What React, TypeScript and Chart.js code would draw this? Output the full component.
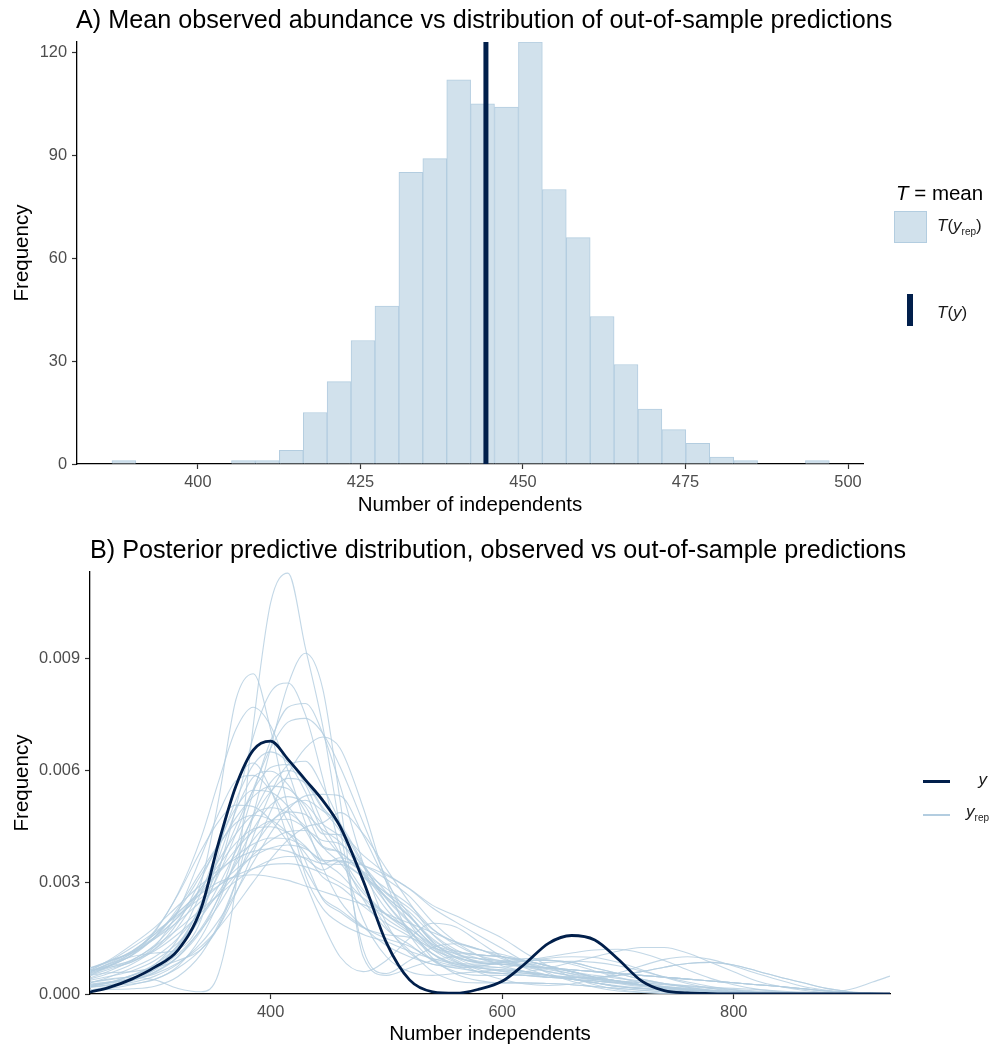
import React, { useEffect, useRef } from "react";
import { Chart, registerables } from "chart.js";

Chart.register(...registerables);

const FONT_FAMILY = "'Liberation Sans', Arial, Helvetica, sans-serif";
const DARK = "#011f4b";
const LIGHT = "#d1e1ec";
const LIGHT_HL = "#b3cde0";
const YREP_LINE = "rgba(179,205,224,0.8)";
const TICK_LABEL = "#4d4d4d";

// ---------- Panel A: histogram of T(y_rep) = mean ----------
const HIST_BIN_CENTERS = [
  388.61, 392.29, 395.97, 399.64, 403.32, 407.0, 410.68, 414.36, 418.04, 421.71,
  425.39, 429.07, 432.75, 436.43, 440.11, 443.78, 447.46, 451.14, 454.82, 458.5,
  462.18, 465.85, 469.53, 473.21, 476.89, 480.57, 484.25, 487.92, 491.6, 495.28,
];
const HIST_COUNTS = [
  1, 0, 0, 0, 0, 1, 1, 4, 15, 24, 36, 46, 85, 89, 112, 105, 104, 123, 80, 66, 43, 29, 16, 10, 6, 2, 1, 0, 0, 1,
];
const T_Y_OBSERVED = 444.3;
const A_X_MIN = 381.4;
const A_X_MAX = 502.3;
const A_Y_MAX = 123;
const A_X_TICKS = [400, 425, 450, 475, 500];
const A_Y_TICKS = [0, 30, 60, 90, 120];

// ---------- Panel B: density overlay ----------
const DENS_UNIT = 0.001; // values below are in units of 0.001
const DENS_X = [
  244, 260, 280, 300, 320, 340, 355, 370, 385, 400, 415, 430, 445, 460, 480, 500,
  520, 540, 560, 580, 600, 620, 640, 660, 680, 700, 720, 740, 760, 780, 800, 820, 840, 860, 880, 900, 920, 935,
];
const Y_OBS = [0.05,0.17,0.4,0.72,1.18,2.3,4.05,5.58,6.55,6.79,6.3,5.75,5.2,4.5,3.04,1.38, 0.38,0.06,0.02,0.13,0.34,0.82,1.36,1.57,1.45,0.94,0.36,0.09,0.03,0.01,0,0,0,0,0,0,0,0];

const YREP_01 = [0.3,0.4,0.45,0.38,0.15,0.06,0.55,2.9,7.2,10.5,11.3,9.3,7.2,4.45,1.2,0.55, 0.9,1.25,1.35,1.2,0.95,0.75,0.6,0.5,0.4,0.3,0.22,0.15,0.1,0.06,0.03,0.02,0.01,0,0,0,0,0];
const YREP_02 = [0.2,0.3,0.5,0.7,0.9,1.2,1.8,3.0,4.8,6.6,8.3,9.15,8.2,5.2,1.0,0.5, 0.7,0.9,1.0,0.95,0.85,0.75,0.65,0.55,0.45,0.35,0.25,0.18,0.12,0.08,0.05,0.03,0.02,0.01,0,0,0,0];
const YREP_03 = [0.4,0.55,0.8,1.2,1.8,3.0,5.2,7.9,8.6,7.1,5.0,3.2,2.3,1.9,1.6,1.4, 1.15,0.95,0.8,0.7,0.62,0.56,0.5,0.45,0.4,0.35,0.3,0.25,0.2,0.15,0.1,0.06,0.04,0.02,0.01,0,0,0];
const YREP_04 = [0.5,0.75,1.1,1.7,2.7,4.2,5.7,7.1,7.7,7.2,6.0,4.6,3.4,2.5,1.8,1.3, 1.0,0.8,0.7,0.6,0.55,0.5,0.45,0.4,0.35,0.3,0.25,0.2,0.15,0.1,0.07,0.04,0.02,0.01,0,0,0,0];
const YREP_05 = [0.2,0.3,0.5,0.8,1.3,2.2,3.3,5.0,6.9,8.1,8.35,7.5,5.8,3.9,2.0,1.0, 0.6,0.5,0.55,0.6,0.65,0.6,0.5,0.4,0.3,0.2,0.14,0.1,0.07,0.04,0.02,0.01,0,0,0,0,0,0];
const YREP_06 = [0.1,0.2,0.35,0.6,1.0,1.7,2.6,3.9,5.4,6.8,7.7,7.8,7.0,5.6,3.5,1.9, 1.1,0.8,0.75,0.75,0.7,0.6,0.5,0.4,0.3,0.22,0.16,0.12,0.08,0.05,0.03,0.02,0.01,0,0,0,0,0];
const YREP_07 = [0.3,0.45,0.7,1.0,1.5,2.3,3.2,4.3,5.5,6.6,7.3,7.4,7.0,6.1,4.6,3.1, 1.9,1.2,0.85,0.7,0.65,0.6,0.5,0.4,0.3,0.2,0.15,0.1,0.06,0.04,0.02,0.01,0,0,0,0,0,0];
const YREP_08 = [0.1,0.15,0.25,0.4,0.7,1.2,1.8,2.7,3.8,4.9,5.9,6.6,6.9,6.6,5.0,3.0, 1.6,0.9,0.6,0.5,0.5,0.5,0.45,0.4,0.35,0.3,0.25,0.2,0.15,0.1,0.06,0.03,0.02,0.01,0,0,0,0];
const YREP_09 = [0.7,0.85,1.15,1.6,2.2,2.7,3.0,3.15,3.2,3.15,3.05,2.9,2.75,2.6,2.4,2.15, 1.9,1.65,1.4,1.2,1.0,0.85,0.7,0.6,0.5,0.42,0.35,0.28,0.22,0.17,0.12,0.08,0.05,0.03,0.02,0.01,0,0];
const YREP_10 = [0.6,0.8,1.0,1.1,1.2,2.0,3.8,5.6,6.2,5.5,4.2,3.0,1.9,1.0,0.6,0.9, 1.5,1.9,1.8,1.4,1.0,0.7,0.5,0.4,0.3,0.2,0.15,0.1,0.06,0.04,0.02,0.01,0,0,0,0,0,0];
const YREP_11 = [0.32,0.38,0.49,0.79,1.48,2.73,3.95,5.2,6.15,6.5,6.21,5.43,4.34,3.73,2.79,2.14, 1.76,1.33,1.14,1.05,1.0,0.9,0.75,0.6,0.45,0.35,0.25,0.18,0.12,0.08,0.05,0.03,0.02,0.01,0,0,0,0];
const YREP_12 = [0.23,0.29,0.41,0.71,1.33,2.37,3.39,4.5,5.47,6.08,6.16,5.63,4.58,3.75,2.54,1.74, 1.33,0.9,0.7,0.75,0.85,0.9,0.9,0.85,0.7,0.55,0.4,0.28,0.18,0.1,0.06,0.03,0.02,0.01,0,0,0,0];
const YREP_13 = [0.5,0.57,0.6,0.75,1.27,2.43,3.64,4.92,5.82,5.98,5.62,4.89,3.96,3.52,2.71,2.13, 1.75,1.28,1.0,0.85,0.8,0.75,0.7,0.65,0.6,0.55,0.5,0.45,0.4,0.35,0.3,0.25,0.2,0.14,0.08,0.04,0.02,0.01];
const YREP_14 = [0.18,0.25,0.37,0.66,1.19,2.06,2.9,3.83,4.73,5.43,5.79,5.66,4.96,4.38,3.22,2.27, 1.69,1.07,0.75,0.6,0.55,0.6,0.7,0.85,1.0,1.15,1.25,1.25,1.1,0.85,0.6,0.35,0.2,0.1,0.04,0.01,0,0];
const YREP_15 = [0.56,0.74,1.04,1.53,2.24,3.2,3.96,4.73,5.3,5.58,5.51,5.04,4.3,4.28,3.72,3.23, 2.83,2.38,2.1,1.8,1.5,1.1,0.75,0.45,0.25,0.12,0.05,0.02,0.01,0,0,0,0,0,0,0,0,0];
const YREP_16 = [0.63,0.75,0.89,1.22,1.93,3.09,4.06,5.0,5.47,5.42,5.04,4.4,3.6,3.22,2.56,2.02, 1.62,1.19,0.97,0.84,0.8,0.72,0.6,0.48,0.36,0.28,0.2,0.14,0.1,0.06,0.04,0.02,0.01,0,0,0,0,0];
const YREP_17 = [0.27,0.32,0.39,0.58,1.0,1.77,2.58,3.54,4.43,5.07,5.3,5.11,4.56,4.23,3.42,2.58, 1.96,1.3,0.91,0.65,0.55,0.5,0.45,0.45,0.45,0.5,0.6,0.72,0.82,0.85,0.78,0.62,0.45,0.3,0.15,0.06,0.02,0.01];
const YREP_18 = [0.24,0.32,0.43,0.65,1.07,1.73,2.38,3.16,3.93,4.59,5.04,5.2,4.92,4.56,3.51,2.44, 1.7,1.08,0.8,0.75,0.85,0.9,0.9,0.85,0.7,0.55,0.4,0.28,0.18,0.1,0.06,0.03,0.02,0.01,0,0,0,0];
const YREP_19 = [0.54,0.7,0.91,1.32,1.98,2.85,3.58,4.3,4.82,5.0,4.87,4.5,3.94,3.8,3.26,2.69, 2.2,1.6,1.19,0.95,0.8,0.75,0.7,0.65,0.6,0.55,0.5,0.45,0.4,0.35,0.3,0.25,0.2,0.14,0.08,0.04,0.02,0.01];
const YREP_20 = [0.37,0.47,0.62,0.9,1.37,2.07,2.73,3.47,4.14,4.64,4.89,4.82,4.41,4.08,3.26,2.44, 1.73,0.96,0.54,0.36,0.3,0.3,0.28,0.25,0.2,0.15,0.1,0.06,0.03,0.01,0,0,0,0,0,0,0,0];
const YREP_21 = [0.68,0.88,1.13,1.53,2.06,2.72,3.28,3.88,4.37,4.65,4.69,4.45,3.97,3.81,3.21,2.61, 2.08,1.4,1.01,0.83,0.8,0.9,1.0,1.1,1.18,1.2,1.1,0.9,0.65,0.42,0.25,0.13,0.06,0.02,0.01,0,0,0];
const YREP_22 = [0.7,0.88,1.1,1.49,2.08,2.85,3.45,4.05,4.43,4.49,4.32,3.97,3.49,3.48,3.14,2.72, 2.3,1.73,1.38,1.19,1.06,0.9,0.75,0.6,0.45,0.35,0.25,0.18,0.12,0.08,0.05,0.03,0.02,0.01,0,0,0,0];
const YREP_23 = [0.5,0.66,0.86,1.16,1.61,2.18,2.67,3.22,3.74,4.12,4.36,4.39,4.12,4.03,3.44,2.73, 2.09,1.39,0.97,0.73,0.6,0.55,0.5,0.45,0.4,0.35,0.3,0.26,0.22,0.18,0.15,0.12,0.08,0.05,0.04,0.12,0.32,0.48];
const YREP_24 = [0.6,0.82,1.14,1.61,2.17,2.79,3.26,3.7,4.03,4.19,4.16,3.94,3.57,3.59,3.28,2.83, 2.39,1.75,1.32,1.03,0.88,0.75,0.7,0.65,0.6,0.55,0.5,0.45,0.4,0.35,0.3,0.25,0.2,0.14,0.08,0.04,0.02,0.01];
const YREP_25 = [0.6,0.8,1.09,1.48,1.94,2.49,2.9,3.34,3.69,3.92,4.0,3.9,3.6,3.55,3.13,2.6, 2.08,1.48,1.08,0.88,0.85,0.88,0.96,1.0,0.98,0.85,0.66,0.45,0.28,0.15,0.07,0.03,0.01,0,0,0,0,0];
const YREP_26 = [0.63,0.9,1.32,1.79,2.37,2.94,3.33,3.63,3.83,3.9,3.83,3.63,3.33,3.56,3.45,3.19, 2.82,2.31,1.93,1.57,1.22,0.86,0.56,0.34,0.18,0.08,0.04,0.01,0,0,0,0,0,0,0,0,0,0];
const YREP_27 = [0.43,0.61,0.9,1.28,1.74,2.27,2.66,3.03,3.36,3.59,3.69,3.66,3.5,3.66,3.46,3.08, 2.62,1.93,1.4,1.03,0.76,0.6,0.45,0.45,0.45,0.5,0.6,0.72,0.82,0.85,0.78,0.62,0.45,0.3,0.15,0.06,0.02,0.01];
const YREP_28 = [0.62,0.72,0.86,1.28,2.22,3.7,4.84,5.72,5.87,5.45,4.62,3.58,2.54,2.2,1.78,1.59, 1.52,1.24,1.1,1.05,1.0,0.9,0.75,0.6,0.45,0.35,0.25,0.18,0.12,0.08,0.05,0.03,0.02,0.01,0,0,0,0];
const YREP_29 = [0.1,0.12,0.14,0.21,0.47,1.07,1.87,2.99,4.24,5.39,6.15,6.25,5.56,4.6,2.99,1.8, 1.17,0.6,0.35,0.3,0.3,0.3,0.28,0.25,0.2,0.15,0.1,0.06,0.03,0.01,0,0,0,0,0,0,0,0];
const YREP_30 = [0.6,0.76,1.03,1.53,2.31,3.3,4.01,4.59,4.8,4.68,4.32,3.78,3.14,2.88,2.36,1.9, 1.55,1.08,0.83,0.8,0.88,0.95,0.92,0.8,0.62,0.45,0.3,0.2,0.12,0.07,0.04,0.02,0.01,0,0,0,0,0];
const YREP_31 = [0.18,0.23,0.31,0.48,0.81,1.37,1.97,2.73,3.54,4.32,4.95,5.32,5.36,5.32,4.26,3.02, 2.13,1.44,1.16,1.05,1.0,0.9,0.75,0.6,0.45,0.35,0.25,0.18,0.12,0.08,0.05,0.03,0.02,0.01,0,0,0,0];
const YREP_32 = [0.24,0.3,0.38,0.54,0.83,1.28,1.77,2.37,3.01,3.62,4.14,4.48,4.6,4.87,4.3,3.36, 2.45,1.6,1.12,0.85,0.8,0.75,0.7,0.65,0.6,0.55,0.5,0.45,0.4,0.35,0.3,0.25,0.2,0.14,0.08,0.04,0.02,0.01];
const YREP_33 = [0.64,0.87,1.24,1.66,2.12,2.58,2.91,3.18,3.37,3.48,3.5,3.42,3.24,2.99,2.58,2.12, 1.66,1.24,0.87,0.58,0.39,0.27,0.23,0.27,0.4,0.56,0.75,0.93,1.0,0.93,0.75,0.55,0.37,0.2,0.1,0.04,0.01,0];
const YREP_34 = [0.2,0.24,0.27,0.39,0.75,1.53,2.46,3.64,4.8,5.68,6.0,5.74,5.01,4.5,3.46,2.55, 1.92,1.34,1.07,0.95,0.9,0.81,0.68,0.54,0.41,0.32,0.23,0.16,0.11,0.07,0.05,0.03,0.02,0.01,0,0,0,0];
const YREP_35 = [0.57,0.74,1.05,1.67,2.67,3.86,4.63,5.07,5.03,4.67,4.08,3.34,2.58,2.26,1.8,1.49, 1.28,0.92,0.75,0.7,0.72,0.78,0.85,0.88,0.85,0.76,0.62,0.46,0.32,0.2,0.11,0.05,0.02,0.01,0,0,0,0];

const YREP_SERIES = [
  YREP_01, YREP_02, YREP_03, YREP_04, YREP_05, YREP_06, YREP_07, YREP_08, YREP_09, YREP_10,
  YREP_11, YREP_12, YREP_13, YREP_14, YREP_15, YREP_16, YREP_17, YREP_18, YREP_19, YREP_20,
  YREP_21, YREP_22, YREP_23, YREP_24, YREP_25, YREP_26, YREP_27, YREP_28, YREP_29, YREP_30,
  YREP_31, YREP_32, YREP_33, YREP_34, YREP_35,
];

const B_X_MIN = 244;
const B_X_MAX = 935;
const B_Y_MAX = 0.01133;
const B_X_TICKS = [400, 600, 800];
const B_Y_TICKS = [0, 0.003, 0.006, 0.009];

// ---------- shared styling ----------
function axis(opts: {
  title: string;
  ticks: number[];
  min: number;
  max: number;
  size: number;
  horizontal: boolean;
  titlePad: number;
  fmt?: (v: number) => string;
}) {
  return {
    type: "linear" as const,
    min: opts.min,
    max: opts.max,
    offset: false,
    grid: {
      display: true,
      drawOnChartArea: false,
      drawTicks: true,
      tickLength: 5,
      tickColor: "#333333",
      tickWidth: 1.2,
      offset: false,
    },
    border: { display: true, color: "#000000", width: 1.3 },
    ticks: {
      color: TICK_LABEL,
      font: { family: FONT_FAMILY, size: 16.4 },
      padding: opts.horizontal ? 4 : 5,
      autoSkip: false,
      maxRotation: 0,
      callback: (v: any) => (opts.fmt ? opts.fmt(Number(v)) : String(v)),
    },
    title: {
      display: true,
      text: opts.title,
      color: "#000000",
      font: { family: FONT_FAMILY, size: 20.5 },
      padding: opts.horizontal ? { top: 0, bottom: opts.titlePad } : { top: opts.titlePad, bottom: 0 },
    },
    afterBuildTicks: (scale: any) => {
      scale.ticks = opts.ticks.map((v) => ({ value: v }));
    },
    afterFit: (scale: any) => {
      if (opts.horizontal) scale.height = opts.size;
      else scale.width = opts.size;
    },
  };
}

function buildConfigA(): any {
  const bars = HIST_BIN_CENTERS.map((x, i) => ({ x, y: HIST_COUNTS[i] }));
  return {
    type: "bar",
    data: {
      datasets: [
        {
          type: "line",
          label: "T(y)",
          data: [
            { x: T_Y_OBSERVED, y: 0 },
            { x: T_Y_OBSERVED, y: A_Y_MAX },
          ],
          borderColor: DARK,
          borderWidth: 5,
          borderCapStyle: "butt",
          pointRadius: 0,
          fill: false,
        },
        {
          type: "bar",
          label: "T(yrep)",
          data: bars,
          backgroundColor: LIGHT,
          borderColor: LIGHT_HL,
          borderWidth: 1,
          barPercentage: 1,
          categoryPercentage: 1,
        },
      ],
    },
    options: {
      animation: false,
      responsive: false,
      events: [],
      layout: { padding: { top: 42, right: 129, bottom: 0, left: 0 } },
      plugins: { legend: { display: false }, tooltip: { enabled: false }, title: { display: false } },
      scales: {
        x: axis({ title: "Number of independents", ticks: A_X_TICKS, min: A_X_MIN, max: A_X_MAX, size: 61, horizontal: true, titlePad: 7.7 }),
        y: axis({ title: "Frequency", ticks: A_Y_TICKS, min: 0, max: A_Y_MAX, size: 77, horizontal: false, titlePad: 10 }),
      },
    },
  };
}

function buildConfigB(): any {
  const toPts = (arr: number[]) => DENS_X.map((x, i) => ({ x, y: arr[i] * DENS_UNIT }));
  return {
    type: "line",
    data: {
      datasets: [
        {
          label: "y",
          data: toPts(Y_OBS),
          borderColor: DARK,
          borderWidth: 2.8,
          pointRadius: 0,
          cubicInterpolationMode: "monotone",
          fill: false,
        },
        ...YREP_SERIES.map((s, i) => ({
          label: "yrep " + (i + 1),
          data: toPts(s),
          borderColor: YREP_LINE,
          borderWidth: 1.1,
          pointRadius: 0,
          cubicInterpolationMode: "monotone",
          fill: false,
        })),
      ],
    },
    options: {
      animation: false,
      responsive: false,
      events: [],
      layout: { padding: { top: 47, right: 102, bottom: 0, left: 0 } },
      plugins: { legend: { display: false }, tooltip: { enabled: false }, title: { display: false } },
      scales: {
        x: axis({ title: "Number independents", ticks: B_X_TICKS, min: B_X_MIN, max: B_X_MAX, size: 55, horizontal: true, titlePad: 2.7 }),
        y: axis({
          title: "Frequency",
          ticks: B_Y_TICKS,
          min: 0,
          max: B_Y_MAX,
          size: 90,
          horizontal: false,
          titlePad: 10,
          fmt: (v) => v.toFixed(3),
        }),
      },
    },
  };
}

const abs = (extra: React.CSSProperties): React.CSSProperties => ({ position: "absolute", whiteSpace: "nowrap", ...extra });

export default function App() {
  const refA = useRef<HTMLCanvasElement>(null);
  const refB = useRef<HTMLCanvasElement>(null);

  useEffect(() => {
    const a = new Chart(refA.current as HTMLCanvasElement, buildConfigA());
    const b = new Chart(refB.current as HTMLCanvasElement, buildConfigB());
    return () => {
      a.destroy();
      b.destroy();
    };
  }, []);

  return (
    <div
      style={{
        position: "absolute",
        left: 0,
        top: 0,
        width: 992,
        height: 1049,
        background: "#ffffff",
        overflow: "hidden",
        fontFamily: FONT_FAMILY,
        color: "#000000",
      }}
    >
      <canvas ref={refA} width={992} height={525} style={abs({ left: 0, top: 0, width: 992, height: 525, display: "block" })} />
      <canvas ref={refB} width={992} height={524} style={abs({ left: 0, top: 525, width: 992, height: 524, display: "block" })} />

      {/* titles */}
      <div style={abs({ left: 76, top: 7, fontSize: 25.2, lineHeight: "25px" })}>
        A) Mean observed abundance vs distribution of out-of-sample predictions
      </div>
      <div style={abs({ left: 90, top: 537, fontSize: 25.2, lineHeight: "25px" })}>
        B) Posterior predictive distribution, observed vs out-of-sample predictions
      </div>

      {/* legend A */}
      <div style={abs({ left: 896, top: 182.5, fontSize: 20.5, lineHeight: "20.5px" })}>
        <i>T</i> = mean
      </div>
      <div style={abs({ left: 894, top: 211, width: 31, height: 30, background: LIGHT, border: `1px solid ${LIGHT_HL}` })} />
      <div style={abs({ left: 937, top: 217, fontSize: 17, lineHeight: "17px", color: "#1a1a1a" })}>
        <i>T</i>(<i>y</i>
        <span style={{ fontSize: 10, position: "relative", top: 4 }}>rep</span>)
      </div>
      <div style={abs({ left: 907, top: 294, width: 6, height: 32, background: DARK })} />
      <div style={abs({ left: 937, top: 304, fontSize: 17, lineHeight: "17px", color: "#1a1a1a" })}>
        <i>T</i>(<i>y</i>)
      </div>

      {/* legend B */}
      <div style={abs({ left: 923, top: 779.5, width: 27, height: 3, background: DARK })} />
      <div style={abs({ right: 5, top: 771, fontSize: 17, lineHeight: "17px", color: "#1a1a1a" })}>
        <i>y</i>
      </div>
      <div style={abs({ left: 923, top: 813.5, width: 27, height: 2, background: LIGHT_HL })} />
      <div style={abs({ right: 3, top: 803, fontSize: 17, lineHeight: "17px", color: "#1a1a1a" })}>
        <i>y</i>
        <span style={{ fontSize: 10, position: "relative", top: 4 }}>rep</span>
      </div>
    </div>
  );
}
